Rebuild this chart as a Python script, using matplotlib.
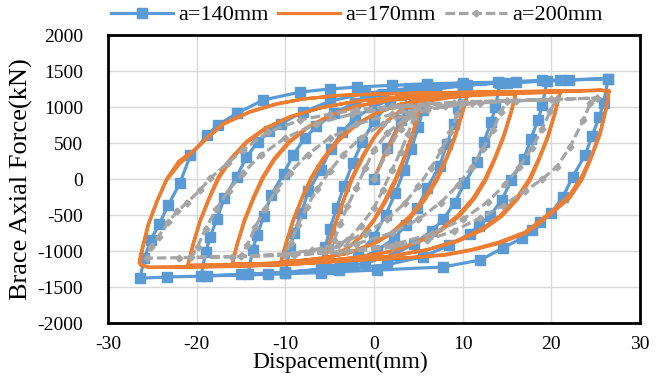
import matplotlib
matplotlib.use("Agg")
import matplotlib.pyplot as plt

# a = 140 mm (one cycle per amplitude: 6, 10, 14.2, 19.5, 26.4 mm, then a final loading)
blue_disp = [
    0, 1.5, 3, 4.5, 6,
    5.5, 5.0, 4.2, 3.4, 2.4, 1.3, 0, -1.8, -3.8, -6,
    -5.5, -5.0, -4.2, -3.4, -2.4, -1.3, 0, 1.8, 4, 7, 10,
    9.5, 9.0, 8.2, 7.4, 6.0, 4.9, 3.6, 2.2, 0.3, -2.5, -6, -10,
    -9.5, -9.0, -8.2, -7.4, -6.0, -4.9, -3.6, -2.2, 0, 3, 7, 10.5, 14.2,
    13.7, 13.2, 12.4, 11.6, 10.2, 9.1, 7.8, 6.5, 4.5, 2.2, -1, -5, -10, -14.2,
    -13.7, -13.2, -12.4, -11.6, -10.2, -9.1, -7.8, -6.5, -4.5, -2.2, 1, 5, 10, 15, 19.5,
    19.0, 18.5, 17.7, 16.9, 15.5, 14.4, 13.1, 11.8, 10.8, 8.5, 5.5, 1.5, -4, -10, -15, -19.5,
    -19.0, -18.5, -17.7, -16.9, -15.5, -14.4, -13.1, -11.8, -10.5, -8, -5, -1, 4, 10, 16, 21, 26.4,
    25.9, 25.4, 24.6, 23.8, 22.4, 21.3, 20.0, 18.7, 17.8, 16.7, 14.5, 12, 7.8, 0.3, -6, -12, -18.8, -23.3, -26.4,
    -25.9, -25.2, -24.2, -23.2, -21.9, -20.7, -18.8, -17.6, -15.4, -12.5, -8.3, -5.0, -1.9, 2, 6, 10, 14, 19, 22, 26.4,
]
blue_force = [
    0, 430, 820, 1130, 1290,
    960, 720, 420, 120, -200, -500, -800, -1050, -1200, -1280,
    -950, -700, -400, -100, 220, 520, 810, 1060, 1200, 1270, 1310,
    980, 760, 480, 180, -120, -400, -640, -830, -1000, -1150, -1250, -1300,
    -970, -750, -470, -170, 130, 410, 650, 840, 1010, 1160, 1250, 1300, 1335,
    1000, 790, 520, 230, -60, -330, -560, -720, -900, -1050, -1170, -1250, -1295, -1320,
    -990, -780, -510, -220, 70, 340, 570, 730, 910, 1060, 1180, 1260, 1310, 1340, 1360,
    1030, 820, 560, 280, -20, -290, -510, -650, -760, -920, -1080, -1190, -1260, -1300, -1325, -1345,
    -1020, -810, -550, -270, 30, 300, 520, 660, 770, 930, 1080, 1190, 1260, 1310, 1345, 1370, 1392,
    1060, 860, 600, 330, 30, -250, -470, -600, -710, -820, -960, -1125, -1222, -1264, -1300, -1325, -1347, -1361, -1378,
    -1100, -850, -620, -360, -60, 330, 611, 750, 917, 1097, 1208, 1250, 1278, 1300, 1320, 1335, 1345, 1370, 1378, 1395,
]

# a = 170 mm (two cycles per amplitude: 5.5, 10.5, 16, 21, 26.6 mm)
orange_disp = [
    0, 1.5, 3, 4.3, 5.5,
    5.0, 4.3, 3.4, 2.4, 1.2, 0, -1.5, -3, -4.5, -5.5,
    -5.0, -4.3, -3.4, -2.4, -1.2, 0, 1.5, 3, 4.5, 5.5,
    5.0, 4.3, 3.4, 2.5, 1.3, 0, -1.5, -3, -4.5, -5.5,
    -5.0, -4.3, -3.4, -2.5, -1.3, 0, 1.5, 3.5, 6, 8.5, 10.5,
    9.9, 9.1, 8.1, 7, 5.7, 4, 2, 0, -3, -6, -8.5, -10.5,
    -9.9, -9.1, -8.1, -7, -5.7, -4, -2, 0, 3, 6, 8.5, 10.5,
    9.9, 9.1, 8.1, 7.1, 5.8, 4.1, 2.1, 0, -3, -6, -8.5, -10.5,
    -9.9, -9.1, -8.1, -7.1, -5.8, -4.1, -2.1, 0, 3, 6, 10, 13, 16,
    15.4, 14.6, 13.6, 12.5, 11.2, 9.5, 7.5, 5, 2, -2, -6, -10, -13, -16,
    -15.4, -14.6, -13.6, -12.5, -11.2, -9.5, -7.5, -5, -2, 2, 6, 10, 13, 16,
    15.4, 14.6, 13.6, 12.6, 11.3, 9.6, 7.6, 5, 2, -2, -6, -10, -13, -16,
    -15.4, -14.6, -13.6, -12.6, -11.3, -9.6, -7.6, -5, -2, 2, 7, 12, 16, 21,
    20.4, 19.6, 18.6, 17.5, 16.1, 14.3, 12.2, 9.5, 6, 2, -3, -8, -13, -17, -21,
    -20.4, -19.6, -18.6, -17.5, -16.1, -14.3, -12.2, -9.5, -6, -2, 3, 8, 13, 17, 21,
    20.4, 19.6, 18.6, 17.6, 16.2, 14.4, 12.3, 9.6, 6, 2, -3, -8, -13, -17, -21,
    -20.4, -19.6, -18.6, -17.6, -16.2, -14.4, -12.3, -9.6, -6, -2, 3, 9, 15, 21, 25.6, 26.5,
    26.2, 25.5, 24.5, 23.4, 22, 20.5, 18.5, 17, 14, 11, 8, 4, 0, -5, -10, -16, -22, -25.4, -26.3, -26.5,
    -26.2, -25.5, -24.5, -23.4, -22, -20.4, -18.5, -17, -14, -11, -8, -4, 0, 5, 10, 16, 22, 25.6, 26.5,
    26.2, 25.5, 24.5, 23.5, 22.1, 20.6, 18.6, 17.1, 14.1, 11, 8, 4, 0, -5, -10, -16, -22, -25.3, -26.2, -26.4,
    -26.1, -25.4, -24.4, -23.4, -22, -20.4, -18.5, -17, -14, -11, -8, -4, 0, 5, 10, 16, 22, 25.6, 26.5,
]
orange_force = [
    0, 420, 760, 980, 1120,
    900, 620, 300, 0, -300, -560, -800, -960, -1060, -1110,
    -890, -610, -290, 10, 310, 570, 800, 960, 1060, 1110,
    880, 590, 270, -20, -320, -580, -810, -965, -1060, -1105,
    -880, -590, -270, 20, 320, 580, 810, 980, 1080, 1130, 1160,
    900, 590, 280, 0, -260, -520, -740, -890, -1030, -1100, -1135, -1150,
    -890, -580, -270, 10, 270, 530, 750, 900, 1040, 1110, 1140, 1155,
    880, 560, 250, -20, -280, -540, -755, -900, -1035, -1100, -1135, -1148,
    -880, -560, -250, 20, 280, 540, 755, 900, 1040, 1110, 1150, 1170, 1185,
    910, 600, 290, 0, -260, -500, -700, -870, -1000, -1090, -1140, -1165, -1175, -1180,
    -900, -590, -280, 10, 270, 510, 710, 880, 1010, 1100, 1145, 1165, 1178, 1183,
    890, 570, 260, -20, -280, -520, -715, -880, -1005, -1090, -1140, -1165, -1175, -1178,
    -880, -560, -250, 20, 280, 520, 715, 880, 1010, 1100, 1155, 1180, 1192, 1205,
    920, 600, 290, 0, -260, -500, -690, -850, -980, -1070, -1130, -1165, -1185, -1195, -1200,
    -910, -590, -280, 10, 270, 510, 700, 860, 990, 1080, 1140, 1170, 1190, 1198, 1203,
    900, 570, 260, -20, -280, -520, -705, -860, -985, -1072, -1130, -1165, -1185, -1195, -1198,
    -900, -570, -260, 20, 280, 520, 705, 860, 990, 1080, 1140, 1180, 1205, 1218, 1232, 1222,
    1000, 650, 320, 30, -230, -400, -600, -740, -880, -980, -1050, -1090, -1110, -1150, -1190, -1215, -1225, -1228, -1200, -1160,
    -990, -640, -310, -20, 200, 380, 600, 760, 930, 1040, 1110, 1160, 1180, 1195, 1205, 1215, 1225, 1235, 1222,
    980, 620, 290, 0, -260, -420, -620, -755, -895, -990, -1058, -1095, -1115, -1152, -1190, -1213, -1222, -1225, -1195, -1160,
    -970, -620, -290, 0, 250, 390, 610, 770, 935, 1045, 1112, 1160, 1178, 1192, 1202, 1212, 1222, 1230, 1218,
]

# a = 200 mm (amplitudes 5, 10, 15, 20.6, 25.2 mm, then a final loading)
gray_disp = [
    0, 1.5, 3, 4, 5,
    4.5, 3.8, 3, 2, 1, 0, -1.5, -3, -5,
    -4.5, -3.8, -3, -2, -1, 0, 1.5, 3.5, 6, 10,
    9.4, 8.6, 7.6, 6.4, 5, 3.5, 1.5, -1, -4, -7, -10,
    -9.4, -8.6, -7.6, -6.4, -5, -3.5, -1.5, 1, 4, 8, 12, 15,
    14.3, 13.4, 12.3, 11, 9.5, 7.5, 5, 2, -2, -6, -10, -15,
    -14.3, -13.4, -12.3, -11, -9.5, -7.5, -5, -2, 2, 6, 11, 16, 20.6,
    19.9, 19, 17.8, 16.4, 14.8, 12.8, 10, 6.5, 2.5, -3, -9, -15, -20.6,
    -19.9, -19, -17.8, -16.4, -14.8, -12.8, -10, -6.5, -2.5, 3, 9, 15, 20, 25.2,
    24.4, 23.6, 22.1, 20.6, 19, 17, 14.5, 12, 9, 6, 2, -4, -10, -16, -22, -25.6,
    -25.2, -24.3, -23.2, -22.2, -21.1, -19.6, -18.5, -16.5, -14.8, -12, -8.3, -5, -2, 2, 6, 10, 15, 20.6, 25.2,
]
gray_force = [
    0, 380, 700, 880, 1000,
    850, 620, 380, 120, -150, -400, -650, -850, -990,
    -850, -620, -380, -120, 150, 400, 640, 840, 960, 1050,
    900, 650, 400, 150, -100, -330, -560, -760, -900, -990, -1040,
    -890, -640, -390, -140, 110, 340, 570, 770, 910, 1010, 1060, 1085,
    930, 680, 420, 160, -80, -330, -560, -750, -900, -990, -1040, -1075,
    -920, -670, -410, -150, 90, 340, 570, 760, 900, 990, 1050, 1085, 1105,
    950, 700, 430, 170, -70, -320, -560, -760, -900, -1000, -1050, -1075, -1090,
    -940, -690, -420, -160, 80, 330, 570, 770, 900, 1000, 1055, 1085, 1105, 1125,
    1055, 820, 444, 167, 0, -170, -370, -540, -720, -850, -950, -1020, -1060, -1080, -1092, -1100,
    -950, -800, -600, -450, -330, -150, 10, 220, 400, 650, 820, 900, 960, 1010, 1045, 1070, 1090, 1105, 1125,
]

x_ticks = [-30, -20, -10, 0, 10, 20, 30]
y_ticks = [-2000, -1500, -1000, -500, 0, 500, 1000, 1500, 2000]

plt.rcParams["font.family"] = ["Liberation Serif", "DejaVu Serif"]
plt.rcParams["axes.unicode_minus"] = False

fig = plt.figure(figsize=(6.68, 3.78), dpi=100)
ax = fig.add_axes([0.1617, 0.1455, 0.7964, 0.7619])

ax.plot(blue_disp, blue_force, color="#5B9BD5", lw=2.3, marker="s",
        markersize=6.5, label="a=140mm", zorder=3)
ax.plot(orange_disp, orange_force, color="#ED7D31", lw=2.3,
        label="a=170mm", zorder=4)
ax.plot(gray_disp, gray_force, color="#A5A5A5", lw=2.3, ls=(0, (3, 1.2)),
        marker="D", markersize=3.5, label="a=200mm", zorder=5)

ax.set_xlim(-30, 30)
ax.set_ylim(-2000, 2000)
ax.set_xticks(x_ticks)
ax.set_yticks(y_ticks)
ax.tick_params(axis="y", length=0, labelsize=14, pad=18)
ax.tick_params(axis="x", length=0, labelsize=14, pad=9)
ax.grid(True, color="#D9D9D9", lw=1)
ax.set_axisbelow(True)
for s in ax.spines.values():
    s.set_linewidth(2)
    s.set_color("black")

ax.set_xlabel("Dispacement(mm)", fontsize=17)
ax.xaxis.set_label_coords(0.437, -0.1)
ax.set_ylabel("Brace Axial Force(kN)", fontsize=19)
ax.yaxis.set_label_coords(-0.141, 0.5)

fig.legend(loc="center", bbox_to_anchor=(0.534, 0.96), ncol=3, frameon=False,
           fontsize=16, handlelength=2.8, handletextpad=0.25, columnspacing=0.4,
           borderaxespad=0)

fig.savefig("out.png", dpi=100)
